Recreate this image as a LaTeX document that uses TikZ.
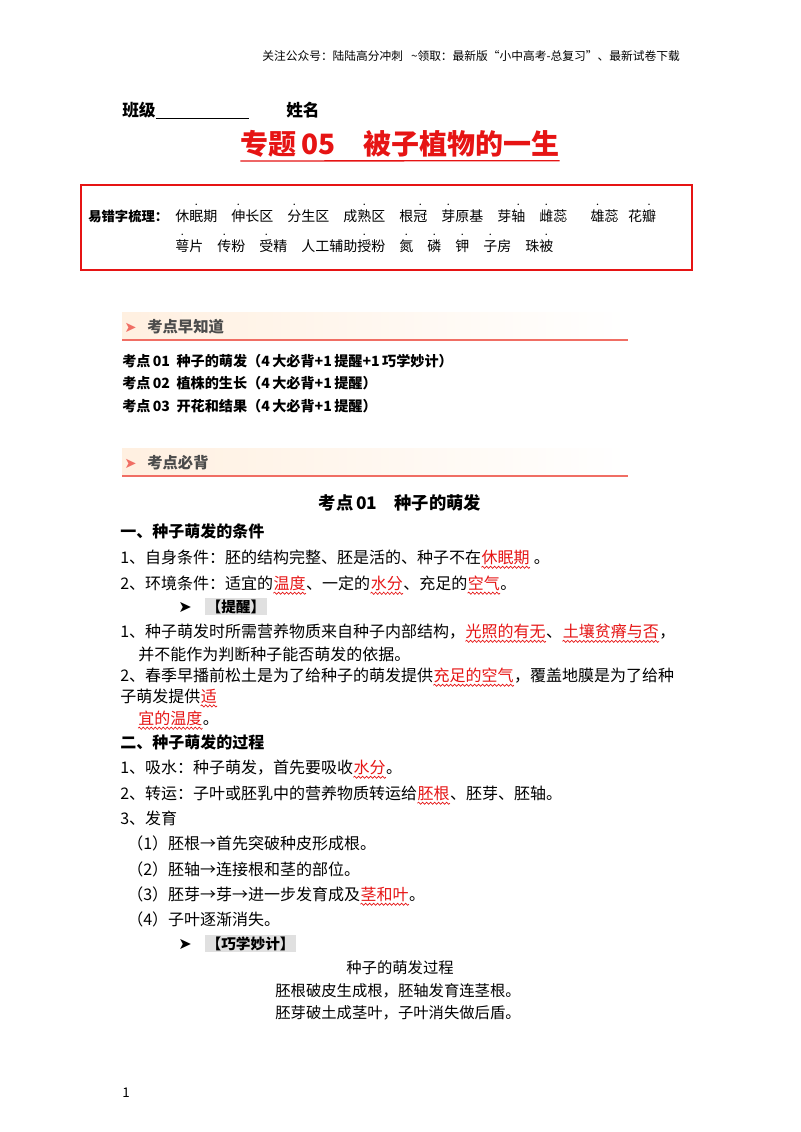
\documentclass[tikz,border=0pt]{standalone}
\usepackage{fontspec}
\setmainfont{Noto Sans CJK SC}
\newfontfamily\dv{DejaVu Sans}
\usepackage{graphicx}
\usetikzlibrary{decorations.pathmorphing}
\definecolor{rd}{RGB}{230,20,20}
\definecolor{bn}{RGB}{240,110,100}
\newcommand\dt[1]{\rlap{\hbox to 1em{\hss\raisebox{0.95em}{\scalebox{0.5}{•}}\hss}}#1}
\tikzset{t/.style={inner sep=0pt,anchor=base west,font=\fontsize{12}{14}\selectfont},
 r/.style={t,text=rd},
 wav/.style={draw=rd,line width=0.5pt,decorate,decoration={snake,amplitude=0.8pt,segment length=3pt}},
 hb/.style={inner sep=0pt,anchor=base west,font=\bfseries\fontsize{10.6}{12}\selectfont}}
\begin{document}
\begin{tikzpicture}[x=0.75pt,y=-0.75pt]
\useasboundingbox[fill=white] (0,0) rectangle (800,1132);
\node[inner sep=0pt,anchor=base east,font=\fontsize{8.8}{10}\selectfont] (hd) at (680,60) {关注公众号：陆陆高分冲刺\ \ \ \textasciitilde 领取：最新版“小中高考-总复习”、最新试卷下载};
\node[inner sep=0pt,anchor=base west,font=\bfseries\fontsize{12.5}{14}\selectfont] (cls) at (122,116) {班级\underline{\hspace{70pt}}\hspace{28pt}姓名};
\node[inner sep=0pt,anchor=base,text=rd,font=\bfseries\fontsize{21}{24}\selectfont] (ti) at (400,154) {专题\,05\quad 被子植物的一生};
\draw[rd,line width=1pt] (ti.base west)++(0,7) -- ([yshift=-5pt]ti.base east);
% box
\draw[rd,line width=1.6pt] (81,185) rectangle (692,270);
\node[hb,font=\bfseries\fontsize{10}{12}\selectfont] (lab) at (88,221) {易错字梳理：};
\node[inner sep=0pt,anchor=base west,font=\fontsize{10.5}{12}\selectfont] (l1) at (175,221) {休\dt{眠}期\quad \dt{伸}长区\quad \dt{分}生区\quad 成\dt{熟}区\quad 根\dt{冠}\quad \dt{芽}原基\quad 芽\dt{轴}\quad \dt{雌}蕊\quad\ \ \ \dt{雄}蕊\ \ \ 花\dt{瓣}};
\node[inner sep=0pt,anchor=base west,font=\fontsize{10.5}{12}\selectfont] (l2) at (175,251) {\dt{萼}片\quad \dt{传}粉\quad \dt{受}精\quad 人工辅助\dt{授}粉\quad \dt{氮}\quad \dt{磷}\quad \dt{钾}\quad \dt{子}房\quad 珠\dt{被}};
% banners
\foreach \yy/\tx/\nm in {340/考点早知道/b1, 476/考点必背/b2}{
 \shade[left color=orange!12,right color=white] (122,\yy-28) rectangle (628,\yy);
 \draw[bn,line width=1.2pt] (122,\yy) -- (628,\yy);
 \node[inner sep=0pt,anchor=base west,text=bn,font=\dv\fontsize{11}{12}\selectfont] (\nm a) at (124,\yy-8) {➤};
 \node[inner sep=0pt,anchor=base west,text=black!70,font=\bfseries\fontsize{11.5}{12}\selectfont] (\nm) at (147,\yy-8) {\tx};
}
\node[hb] (k1) at (122,366) {考点\,01\ \ 种子的萌发（4\,大必背+1\,提醒+1\,巧学妙计）};
\node[hb] (k2) at (122,388) {考点\,02\ \ 植株的生长（4\,大必背+1\,提醒）};
\node[hb] (k3) at (122,411) {考点\,03\ \ 开花和结果（4\,大必背+1\,提醒）};
\node[inner sep=0pt,anchor=base,font=\bfseries\fontsize{13}{15}\selectfont] (kd) at (400,509) {考点\,01\quad 种子的萌发};
\node[t,font=\bfseries\fontsize{12}{14}\selectfont] (s1) at (120,537) {一、种子萌发的条件};
\node[t] (a1) at (120,563) {1、自身条件：胚的结构完整、胚是活的、种子不在};
\node[r] (a1r) at (a1.base east) {休眠期};
\node[t] at (a1r.base east) {\ 。};
\draw[wav] ([yshift=-2pt]a1r.south west) -- ([yshift=-2pt]a1r.south east);
\node[t] (a2) at (120,589) {2、环境条件：适宜的};
\node[r] (a2r) at (a2.base east) {温度};
\node[t] (a2b) at (a2r.base east) {、一定的};
\node[r] (a2s) at (a2b.base east) {水分};
\node[t] (a2c) at (a2s.base east) {、充足的};
\node[r] (a2t) at (a2c.base east) {空气};
\node[t] at (a2t.base east) {。};
\foreach \n in {a2r,a2s,a2t} \draw[wav] ([yshift=-2pt]\n.south west) -- ([yshift=-2pt]\n.south east);
\node[t,font=\dv\fontsize{12}{14}\selectfont] (ar1) at (178,612) {➤};
\node[t,fill=black!12,inner sep=1pt,font=\bfseries\fontsize{11}{13}\selectfont] (tx1) at (205,612) {【提醒】};
\node[t] (p1) at (120,637) {1、种子萌发时所需营养物质来自种子内部结构，};
\node[r] (p1r) at (p1.base east) {光照的有无};
\node[t] (p1b) at (p1r.base east) {、};
\node[r] (p1s) at (p1b.base east) {土壤贫瘠与否};
\node[t] at (p1s.base east) {，};
\node[t] (p2) at (138,660) {并不能作为判断种子能否萌发的依据。};
\node[t] (p3) at (120,681) {2、春季早播前松土是为了给种子的萌发提供};
\node[r] (p3r) at (p3.base east) {充足的空气};
\node[t] at (p3r.base east) {，覆盖地膜是为了给种};
\node[t] (p4) at (120,702) {子萌发提供};
\node[r] (p4r) at (p4.base east) {适};
\node[r] (p5r) at (138,724) {宜的温度};
\node[t] at (p5r.base east) {。};
\foreach \n in {p1r,p1s,p3r,p4r,p5r} \draw[wav] ([yshift=-2pt]\n.south west) -- ([yshift=-2pt]\n.south east);
\node[t,font=\bfseries\fontsize{12}{14}\selectfont] (s2) at (120,748) {二、种子萌发的过程};
\node[t] (b1) at (120,773) {1、吸水：种子萌发，首先要吸收};
\node[r] (b1r) at (b1.base east) {水分};
\node[t] at (b1r.base east) {。};
\node[t] (b2) at (120,799) {2、转运：子叶或胚乳中的营养物质转运给};
\node[r] (b2r) at (b2.base east) {胚根};
\node[t] at (b2r.base east) {、胚芽、胚轴。};
\node[t] (b3) at (120,824) {3、发育};
\node[t] (c1) at (127,849) {（1）胚根→首先突破种皮形成根。};
\node[t] (c2) at (127,875) {（2）胚轴→连接根和茎的部位。};
\node[t] (c3) at (127,900) {（3）胚芽→芽→进一步发育成及};
\node[r] (c3r) at (c3.base east) {茎和叶};
\node[t] at (c3r.base east) {。};
\node[t] (c4) at (127,925) {（4）子叶逐渐消失。};
\foreach \n in {b1r,b2r,c3r} \draw[wav] ([yshift=-2pt]\n.south west) -- ([yshift=-2pt]\n.south east);
\node[t,font=\dv\fontsize{12}{14}\selectfont] (ar2) at (178,949) {➤};
\node[t,fill=black!12,inner sep=1pt,font=\bfseries\fontsize{11}{13}\selectfont] (tx2) at (205,949) {【巧学妙计】};
\node[inner sep=0pt,anchor=base,font=\fontsize{11.5}{13}\selectfont] (m1) at (400,973) {种子的萌发过程};
\node[inner sep=0pt,anchor=base,font=\fontsize{11.5}{13}\selectfont] (m2) at (398,996) {胚根破皮生成根，胚轴发育连茎根。};
\node[inner sep=0pt,anchor=base,font=\fontsize{11.5}{13}\selectfont] (m3) at (398,1018) {胚芽破土成茎叶，子叶消失做后盾。};
\node[inner sep=0pt,anchor=base west,font=\fontsize{10}{12}\selectfont] (pg) at (122,1097) {1};
\end{tikzpicture}
\end{document}
